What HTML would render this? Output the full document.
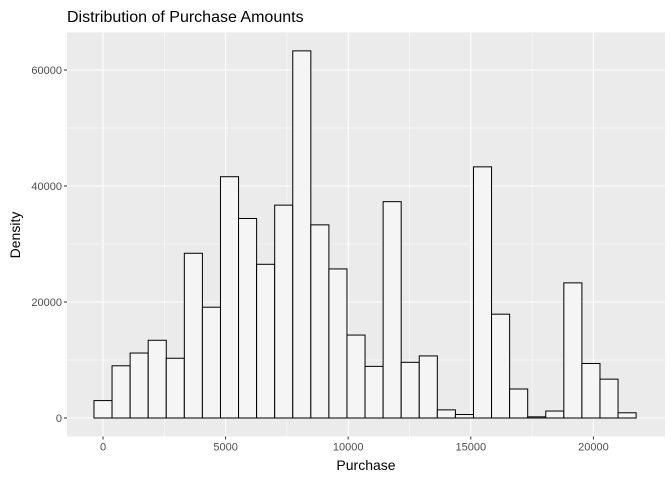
<!DOCTYPE html>
<html><head><meta charset="utf-8"><style>
body{margin:0;background:#fff;}
svg{font-family:"Liberation Sans",Arial,sans-serif;}
</style></head><body>
<svg id="chart" width="672" height="480">
<text x="67" y="22" font-size="16" fill="#000">Distribution of Purchase Amounts</text>
<rect x="67" y="32.5" width="598" height="404" fill="#ebebeb"/>
<g id="grid"></g>
<g id="bars"></g>
<g id="axes"></g>
<text x="366" y="470" font-size="14" text-anchor="middle" fill="#000">Purchase</text>
<text transform="translate(20,235) rotate(-90)" font-size="14" text-anchor="middle" fill="#000">Density</text>
</svg>
<script>
const binStart = -368;
const binWidth = 737;
const counts = [3000, 9000, 11200, 13400, 10300, 28400, 19100, 41600, 34400, 26500, 36700, 63300, 33300, 25700, 14300, 8900, 37300, 9600, 10700, 1400, 600, 43300, 17900, 5000, 200, 1200, 23300, 9400, 6700, 900];
const xTicks = [0, 5000, 10000, 15000, 20000];
const yTicks = [0, 20000, 40000, 60000];
const NS = "http://www.w3.org/2000/svg";
const xs = v => 103 + (v / 5000) * 122.6;
const ys = v => 418 - v * 116 / 20000;
const panel = {l:67, r:665, t:32.5, b:436.5};
function mk(tag, attrs, parent){const e=document.createElementNS(NS,tag);for(const k in attrs)e.setAttribute(k,attrs[k]);parent.appendChild(e);return e;}
const grid=document.getElementById('grid'), bars=document.getElementById('bars'), axes=document.getElementById('axes');
// minor grid
for(let i=0;i<xTicks.length-1;i++){
  const m=mk('line',{x1:xs((xTicks[i]+xTicks[i+1])/2),x2:xs((xTicks[i]+xTicks[i+1])/2),y1:panel.t,y2:panel.b,stroke:'#fff','stroke-width':0.5},grid);
  
  
}
for(let i=0;i<yTicks.length;i++){
  const v=yTicks[i]+10000;
  if(ys(v)<panel.t) continue;
  const m=mk('line',{x1:panel.l,x2:panel.r,y1:ys(v),y2:ys(v),stroke:'#fff','stroke-width':0.5},grid);
  
  
}
xTicks.forEach(t=>{
  const g=mk('line',{x1:xs(t),x2:xs(t),y1:panel.t,y2:panel.b,stroke:'#fff','stroke-width':1.1},grid);
  
  
  const tk=mk('line',{x1:xs(t),x2:xs(t),y1:panel.b,y2:panel.b+3,stroke:'#333'},axes);
  
  
  const tx=mk('text',{x:xs(t),y:panel.b+14,'font-size':11,'text-anchor':'middle',fill:'#4d4d4d'},axes);
  tx.textContent=t;
  
  
});
yTicks.forEach(t=>{
  const g=mk('line',{x1:panel.l,x2:panel.r,y1:ys(t),y2:ys(t),stroke:'#fff','stroke-width':1.1},grid);
  
  
  const tk=mk('line',{x1:panel.l-3,x2:panel.l,y1:ys(t),y2:ys(t),stroke:'#333'},axes);
  
  
  const tx=mk('text',{x:panel.l-5,y:ys(t)+4,'font-size':11,'text-anchor':'end',fill:'#4d4d4d'},axes);
  tx.textContent=t;
  
  
});
counts.forEach((c,i)=>{
  const x0=xs(binStart+i*binWidth), x1=xs(binStart+(i+1)*binWidth);
  const r=mk('rect',{x:x0,y:ys(c),width:x1-x0,height:ys(0)-ys(c),fill:'#f5f5f5',stroke:'#000','stroke-width':1},bars);
  
  
});
</script>
</body></html>
